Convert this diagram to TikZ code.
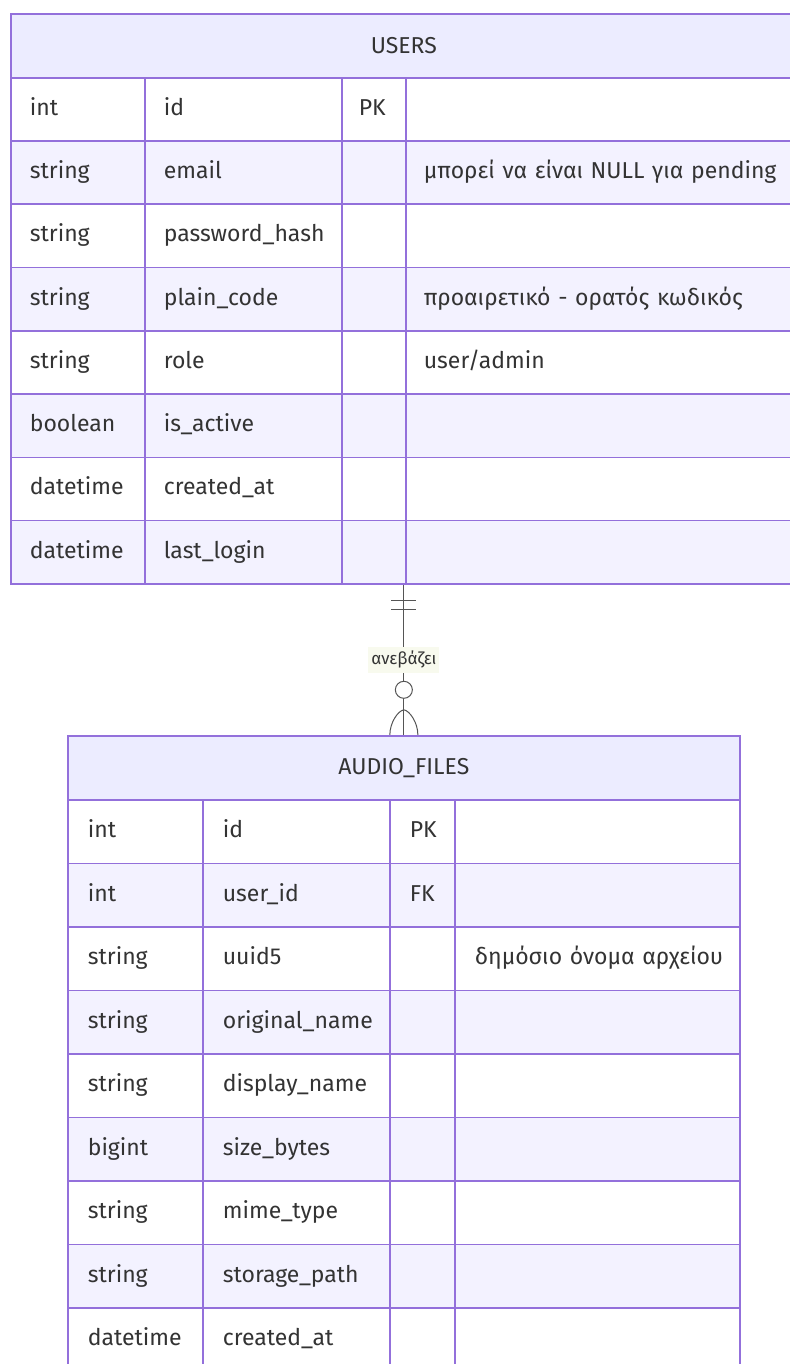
\documentclass[tikz,border=0pt]{standalone}
\usepackage{fontspec}
\setmainfont{Fira Sans}
\usetikzlibrary{fit}
\definecolor{erline}{HTML}{9370DB}
\definecolor{erhead}{HTML}{ECECFF}
\definecolor{erodd}{HTML}{FFFFFF}
\definecolor{ereven}{HTML}{F3F2FF}
\definecolor{ertext}{HTML}{333333}
\definecolor{relcol}{HTML}{555555}
\definecolor{lblbg}{HTML}{F8FAEE}
\newcommand{\useradmin}{user/admin}
\tikzset{
  cellbox/.style={draw=erline, line width=1.7pt, inner ysep=0pt, anchor=north west,
    font=\fontsize{23}{27}\selectfont, text=ertext, align=left, text height=17pt, text depth=5pt},
  headbox/.style={draw=erline, line width=1.7pt, fill=erhead, anchor=north west, inner sep=0pt,
    font=\fontsize{23}{27}\selectfont, text=ertext},
  relstyle/.style={draw=relcol, line width=1pt},
  rellabel/.style={fill=lblbg, font=\fontsize{17}{20}\selectfont, text=ertext, inner xsep=3pt, inner ysep=4pt},
}
\begin{document}
\begin{tikzpicture}[x=1pt,y=-1pt]
\useasboundingbox (0,0) rectangle (789,1364);
\fill[white] (0,0) rectangle (789,1364);
% USERS table
\node[headbox, minimum width=786pt, minimum height=64pt] (uH) at (10,13) {USERS};
\foreach \ty/\nm/\ky/\cm [count=\i] in {
  int/id/PK/{},
  string/email//{μπορεί να είναι NULL για pending},
  string/password\_hash//{},
  string/plain\_code//{προαιρετικό - ορατός κωδικός},
  string/role//{\useradmin},
  boolean/is\_active//{},
  datetime/created\_at//{},
  datetime/last\_login//{}}{
  \pgfmathsetmacro{\yt}{77+(\i-1)*63.25}
  \ifodd\i\relax\def\rf{erodd}\else\def\rf{ereven}\fi
  \node[cellbox, fill=\rf, minimum height=63.25pt, text width=96pt, inner xsep=19pt] (u\i-a) at (10,\yt) {\mbox{\ty}};
  \node[cellbox, fill=\rf, minimum height=63.25pt, text width=159pt, inner xsep=19pt] (u\i-b) at (144,\yt) {\mbox{\nm}};
  \node[cellbox, fill=\rf, minimum height=63.25pt, text width=30pt, inner xsep=17pt] (u\i-c) at (341,\yt) {\mbox{\ky}};
  \node[cellbox, fill=\rf, minimum height=63.25pt, text width=355pt, inner xsep=18pt] (u\i-d) at (405,\yt) {\mbox{\cm}};
}
\node[fit=(uH)(u8-d)(u8-a), inner sep=0pt] (users) {};
% AUDIO_FILES table
\node[headbox, minimum width=672pt, minimum height=64pt] (aH) at (67,735) {AUDIO\_FILES};
\foreach \ty/\nm/\ky/\cm [count=\i] in {
  int/id/PK/{},
  int/user\_id/FK/{},
  string/uuid5//{δημόσιο όνομα αρχείου},
  string/original\_name//{},
  string/display\_name//{},
  bigint/size\_bytes//{},
  string/mime\_type//{},
  string/storage\_path//{},
  datetime/created\_at//{}}{
  \pgfmathsetmacro{\yt}{799+(\i-1)*63.5}
  \ifodd\i\relax\def\rf{erodd}\else\def\rf{ereven}\fi
  \node[cellbox, fill=\rf, minimum height=63.5pt, text width=95pt, inner xsep=20pt] (a\i-a) at (67,\yt) {\mbox{\ty}};
  \node[cellbox, fill=\rf, minimum height=63.5pt, text width=147pt, inner xsep=20pt] (a\i-b) at (202,\yt) {\mbox{\nm}};
  \node[cellbox, fill=\rf, minimum height=63.5pt, text width=25pt, inner xsep=20pt] (a\i-c) at (389,\yt) {\mbox{\ky}};
  \node[cellbox, fill=\rf, minimum height=63.5pt, text width=245pt, inner xsep=20pt] (a\i-d) at (454,\yt) {\mbox{\cm}};
}
\node[fit=(aH)(a9-a)(a9-d), inner sep=0pt] (audio) {};
% relationship
\draw[relstyle] (users.south) -- node[rellabel, pos=0.5] (rel) {ανεβάζει} (audio.north);
\draw[relstyle] ([xshift=-12.5pt,yshift=-16pt]users.south) -- ([xshift=12.5pt,yshift=-16pt]users.south);
\draw[relstyle] ([xshift=-12.5pt,yshift=-25pt]users.south) -- ([xshift=12.5pt,yshift=-25pt]users.south);
\draw[relstyle, fill=white] ([yshift=45pt]audio.north) circle (8.5pt);
\draw[relstyle] ([xshift=-14pt]audio.north) .. controls ([xshift=-14pt,yshift=12pt]audio.north) and ([xshift=-6pt,yshift=24pt]audio.north) .. ([yshift=25pt]audio.north)
  .. controls ([xshift=6pt,yshift=24pt]audio.north) and ([xshift=14pt,yshift=12pt]audio.north) .. ([xshift=14pt]audio.north);
\end{tikzpicture}
\end{document}
